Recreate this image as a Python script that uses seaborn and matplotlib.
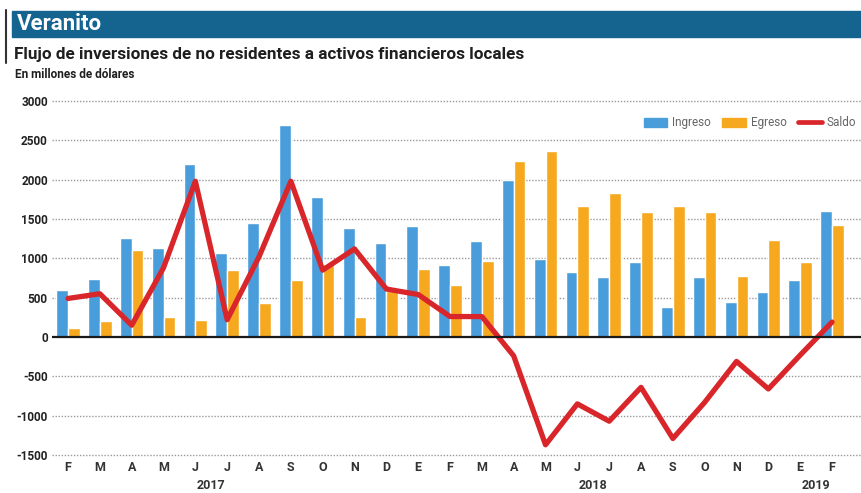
import matplotlib
matplotlib.use("Agg")
import matplotlib.pyplot as plt
from matplotlib.patches import Rectangle, Patch
from matplotlib.lines import Line2D
import seaborn as sns
import pandas as pd

meses = ["F", "M", "A", "M", "J", "J", "A", "S", "O", "N", "D", "E",
         "F", "M", "A", "M", "J", "J", "A", "S", "O", "N", "D", "E", "F"]
ingreso = [600, 740, 1260, 1130, 2200, 1070, 1450, 2700, 1780, 1380, 1200, 1410,
           920, 1220, 2000, 990, 820, 760, 950, 380, 760, 450, 570, 720, 1600]
egreso = [110, 200, 1110, 250, 220, 850, 430, 720, 930, 260, 590, 870,
          660, 960, 2240, 2360, 1670, 1830, 1590, 1670, 1590, 770, 1230, 950, 1420]
saldo = [490, 550, 150, 880, 1980, 220, 1020, 1980, 850, 1120, 610, 540,
         260, 260, -240, -1370, -850, -1070, -640, -1290, -830, -310, -660, -230, 190]
anios = ["2017", "2018", "2019"]
anios_pos = [4.5, 16.5, 23.5]
yticks = [-1500, -1000, -500, 0, 500, 1000, 1500, 2000, 2500, 3000]

azul = "#4a9ddb"
naranja = "#f6a81f"
rojo = "#d9262b"

sns.set_theme(style="white")
plt.rcParams["font.family"] = ["Roboto", "DejaVu Sans"]

idx = list(range(len(meses)))
df = pd.DataFrame({
    "i": idx * 2,
    "valor": ingreso + egreso,
    "serie": ["Ingreso"] * len(idx) + ["Egreso"] * len(idx),
})

fig = plt.figure(figsize=(8.61, 4.93), dpi=100)
ax = fig.add_axes([52 / 861, 1 - 456.6 / 493, 809 / 861, (456.6 - 99.4) / 493])

sns.barplot(data=df, x="i", y="valor", hue="serie", palette=[azul, naranja],
            width=0.74, gap=0.0, ax=ax, legend=False, saturation=1)
sns.lineplot(x=idx, y=saldo, color=rojo, linewidth=3.8, ax=ax, legend=False)

ax.set_ylim(-1520, 3020)
ax.set_xlim(-0.503, 24.91)
for v in yticks:
    if v != 0:
        ax.axhline(v, color="#9a9a9a", lw=1.0, ls=(0, (1, 1.2)), zorder=0)
ax.axhline(0, color="#1a1a1a", lw=1.6, zorder=3)

ax.set_yticks(yticks)
ax.set_yticklabels([str(v) for v in yticks], fontsize=8.5, fontweight="bold", color="#222222")
ax.set_xticks(idx)
ax.set_xticklabels(meses, fontsize=9, fontweight="bold", color="#333333")
ax.tick_params(axis="both", length=0, pad=3)
ax.set_xlabel("")
ax.set_ylabel("")
for s in ax.spines.values():
    s.set_visible(False)

# años bajo los meses
for a, p in zip(anios, anios_pos):
    ax.annotate(a, xy=(p, 0), xycoords=("data", "axes fraction"), xytext=(0, -16),
                textcoords="offset points", ha="center", va="top",
                fontsize=9, fontweight="bold", color="#333333")

handles = [Patch(color=azul, label="Ingreso"), Patch(color=naranja, label="Egreso"),
           Line2D([0], [0], color=rojo, lw=3.4, label="Saldo")]
leg = ax.legend(handles=handles, loc="center right", bbox_to_anchor=(1.0, 1 - (123 - 99.4) / 357.2),
                ncol=3, frameon=False, fontsize=8.5, handlelength=2.0, handleheight=0.8,
                columnspacing=1.0, handletextpad=0.4, borderaxespad=0)
for t in leg.get_texts():
    t.set_color("#666666")

# cabecera
fig.patches.append(Rectangle((12 / 861, 1 - 37 / 493), 1, 26 / 493,
                             transform=fig.transFigure, color="#14648f", zorder=0))
fig.add_artist(Line2D([6 / 861, 6 / 861], [1 - 10 / 493, 1 - 63 / 493],
                      transform=fig.transFigure, color="#333333", lw=1.5))
fig.text(17 / 861, 1 - 24 / 493, "Veranito", color="white", fontsize=16,
         fontweight="bold", va="center", ha="left")
fig.text(14 / 861, 1 - 55 / 493, "Flujo de inversiones de no residentes a activos financieros locales",
         color="#1f1f1f", fontsize=12.3, fontweight="bold", va="center", ha="left")
fig.text(15 / 861, 1 - 74 / 493, "En millones de dólares", color="#1f1f1f",
         fontsize=8.5, fontweight="bold", va="center", ha="left")

fig.savefig("out.png", dpi=100)
